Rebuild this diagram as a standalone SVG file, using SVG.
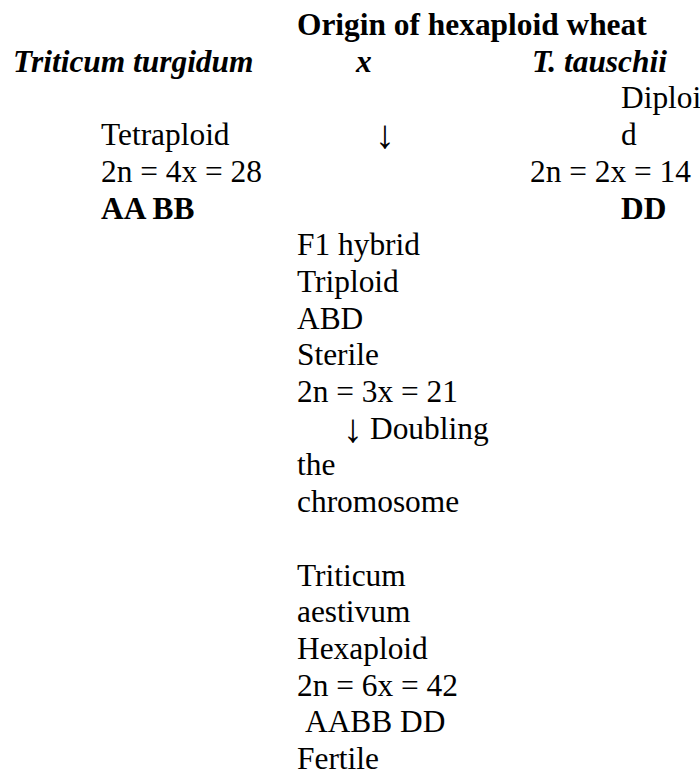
<svg xmlns="http://www.w3.org/2000/svg" width="700" height="771" viewBox="0 0 700 771">
<style>
text{font-family:"Liberation Serif","Times New Roman",serif;font-size:31.4px;fill:#000}
.b{font-weight:bold}
.bi{font-weight:bold;font-style:italic}
.arr{font-size:40px}
</style>
<rect width="700" height="771" fill="#fff"/>
<g id="title"><text class="b" x="297" y="35">Origin of hexaploid wheat</text></g>
<g id="parent-turgidum">
<text class="bi" x="13" y="71.7">Triticum turgidum</text>
<text x="101" y="145.1">Tetraploid</text>
<text x="101" y="181.8">2n = 4x = 28</text>
<text class="b" x="101" y="218.5">AA BB</text>
</g>
<g id="cross"><text class="bi" x="356" y="71.7">x</text></g>
<g id="parent-tauschii">
<text class="bi" x="532" y="71.7">T. tauschii</text>
<text x="621" y="108.4">Diploi</text>
<text x="621" y="145.1">d</text>
<text x="530" y="181.8">2n = 2x = 14</text>
<text class="b" x="621" y="218.5">DD</text>
</g>
<g id="f1-hybrid">
<text x="297" y="255.2">F1 hybrid</text>
<text x="297" y="291.9">Triploid</text>
<text x="297" y="328.6">ABD</text>
<text x="297" y="365.3">Sterile</text>
<text x="297" y="402">2n = 3x = 21</text>
</g>
<g id="connectors">
<text class="arr" x="375" y="148">↓</text>
<text class="arr" x="343" y="442">↓</text>
</g>
<g id="doubling">
<text x="370" y="438.7">Doubling</text>
<text x="297" y="475.4">the</text>
<text x="297" y="512.1">chromosome</text>
</g>
<g id="aestivum">
<text x="297" y="585.5">Triticum</text>
<text x="297" y="622.2">aestivum</text>
<text x="297" y="658.9">Hexaploid</text>
<text x="297" y="695.6">2n = 6x = 42</text>
<text x="305" y="732.3">AABB DD</text>
<text x="297" y="768.5">Fertile</text>
</g>
</svg>
